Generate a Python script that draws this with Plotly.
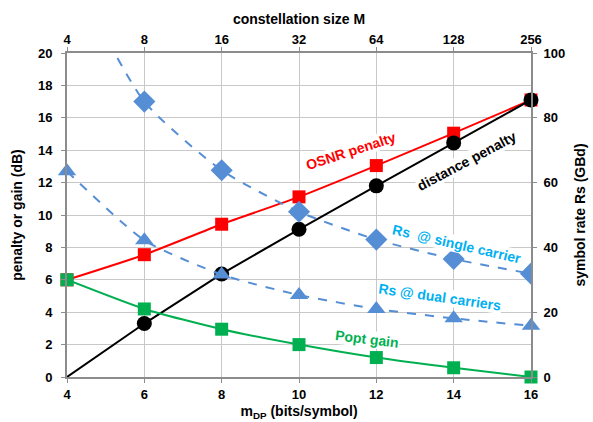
import plotly.graph_objects as go

# ---- data ----
m_dp = [4, 6, 8, 10, 12, 14, 16]
const_size_labels = ["4", "8", "16", "32", "64", "128", "256"]

osnr_penalty = [6.0, 7.55, 9.43, 11.12, 13.05, 15.05, 17.1]
distance_penalty = [0.0, 3.3, 6.36, 9.12, 11.8, 14.45, 17.1]
popt_gain = [6.0, 4.2, 2.95, 2.0, 1.2, 0.57, 0.0]
rs_single = [128.0, 85.0, 63.8, 51.0, 42.4, 36.4, 31.9]
rs_dual = [63.5, 42.2, 31.6, 25.3, 21.0, 18.1, 15.8]

FONT = "Liberation Sans"
BLUE = "#558ED5"
RED = "#FF0000"
GREEN = "#00B050"
CYAN = "#00B0F0"

fig = go.Figure()


def mk(symbol, size, color):
    return dict(symbol=symbol, size=size, color=color, opacity=1,
                line=dict(width=0, color=color))


fig.add_trace(go.Scatter(
    x=m_dp, y=rs_single, xaxis="x", yaxis="y2", mode="lines+markers",
    line=dict(color=BLUE, width=2, dash="dash", shape="spline", smoothing=0.6),
    marker=mk("diamond", [0, 17, 17, 17, 17, 17, 17], BLUE),
    showlegend=False, cliponaxis=True))
fig.add_trace(go.Scatter(
    x=m_dp, y=rs_dual, xaxis="x", yaxis="y2", mode="lines+markers",
    line=dict(color=BLUE, width=2, dash="dash", shape="spline", smoothing=0.6),
    marker=mk("triangle-up", 16, BLUE),
    showlegend=False, cliponaxis=False))
fig.add_trace(go.Scatter(
    x=m_dp, y=osnr_penalty, mode="lines+markers",
    line=dict(color=RED, width=2, shape="spline", smoothing=0.6),
    marker=mk("square", 13, RED),
    showlegend=False, cliponaxis=False))
fig.add_trace(go.Scatter(
    x=m_dp, y=distance_penalty, mode="lines+markers",
    line=dict(color="black", width=2),
    marker=mk("circle", [0, 15, 15, 15, 15, 15, 15], "black"),
    showlegend=False, cliponaxis=False))
fig.add_trace(go.Scatter(
    x=m_dp, y=popt_gain, mode="lines+markers",
    line=dict(color=GREEN, width=2, shape="spline", smoothing=0.6),
    marker=mk("square", 13, GREEN),
    showlegend=False, cliponaxis=False))
# invisible trace to carry the top axis
fig.add_trace(go.Scatter(x=m_dp, y=osnr_penalty, xaxis="x2", yaxis="y",
                         mode="markers", marker=dict(opacity=0),
                         showlegend=False, hoverinfo="skip"))

tickfont = dict(family=FONT, size=13, color="black", weight="bold")
titlefont = dict(family=FONT, size=14, color="black", weight="bold")
GRID = "#C8C8C8"
AXIS = "#8C8C8C"

fig.update_layout(
    width=593, height=422,
    margin=dict(l=67, r=62, t=53, b=45),
    paper_bgcolor="white", plot_bgcolor="white",
    font=dict(family=FONT),
    xaxis=dict(range=[4, 16], tickvals=m_dp, ticktext=[str(v) for v in m_dp],
               showgrid=True, gridcolor=GRID, gridwidth=1, automargin=False,
               showline=True, linecolor=AXIS, linewidth=2, mirror=False,
               ticks="outside", ticklen=4, tickcolor=AXIS,
               tickfont=tickfont, zeroline=False,
               title=dict(text="m<sub>DP</sub> (bits/symbol)", font=titlefont, standoff=6)),
    xaxis2=dict(range=[4, 16], overlaying="x", side="top", anchor="y",
                tickvals=m_dp, ticktext=const_size_labels, automargin=False,
                showgrid=False, showline=True, linecolor=AXIS, linewidth=2,
                ticks="outside", ticklen=4, tickcolor=AXIS, ticklabelstandoff=-2,
                tickfont=tickfont, zeroline=False,
                title=dict(text="constellation size M", font=titlefont, standoff=4)),
    yaxis=dict(range=[0, 20], dtick=2, showgrid=True, gridcolor=GRID, gridwidth=1,
               showline=True, linecolor=AXIS, linewidth=2, automargin=False,
               ticks="outside", ticklen=4, tickcolor=AXIS, ticklabelstandoff=6,
               tickfont=tickfont, zeroline=False,
               title=dict(text="penalty or gain (dB)", font=titlefont, standoff=12)),
    yaxis2=dict(range=[0, 100], dtick=20, overlaying="y", side="right", anchor="x",
                showgrid=False, showline=True, linecolor=AXIS, linewidth=2,
                automargin=False,
                ticks="outside", ticklen=4, tickcolor=AXIS, ticklabelstandoff=4,
                tickfont=tickfont, zeroline=False,
                title=dict(text="symbol rate Rs (GBd)", font=titlefont, standoff=11)),
)

labels = [
    ("OSNR penalty", 11.34, 13.97, -18, RED),
    ("distance penalty", 14.34, 13.31, -28, "black"),
    ("Rs  @ single carrier", 14.08, 8.2, 13, CYAN),
    ("Rs @ dual carriers", 13.65, 4.93, 8, CYAN),
    ("Popt gain", 11.76, 2.33, 7, GREEN),
]
for text, x, y, ang, col in labels:
    fig.add_annotation(x=x, y=y, xref="x", yref="y", text=text, showarrow=False,
                       textangle=ang, bgcolor="white", borderpad=0,
                       font=dict(family=FONT, size=14, color=col, weight="bold"))

fig.write_html("out.html", config={"displayModeBar": False},
               post_script="document.body.style.margin='0';")
